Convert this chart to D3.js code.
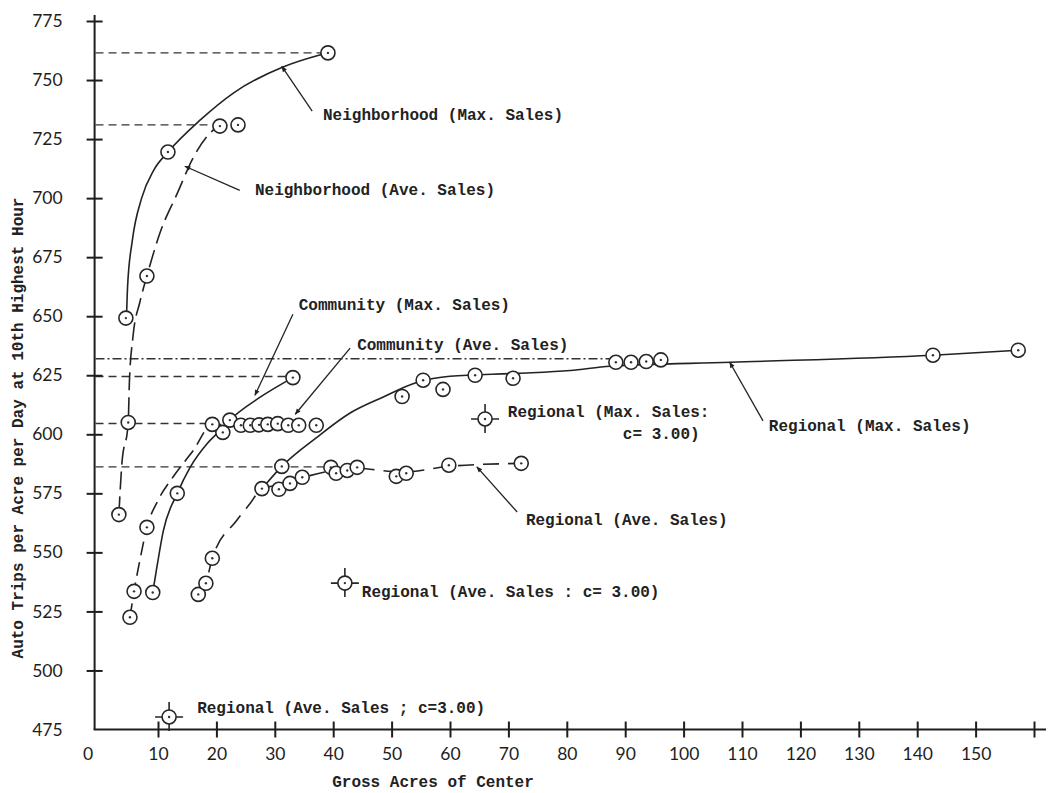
<!DOCTYPE html>
<html>

<head>
  <meta charset="utf-8" />
  <title>Auto trips per acre</title>
  <style>
    body {
      margin: 0;
      background: #fff;
    }

    .axis path,
    .axis line {
      fill: none;
      stroke: #1e1e1e;
      stroke-width: 2px;
    }

    .axis text {
      font-family: Lato, "DejaVu Sans", sans-serif;
      font-size: 17.5px;
      fill: #1e1e1e;
    }

    .note {
      font-family: "Liberation Mono", "DejaVu Sans Mono", monospace;
      font-weight: bold;
      font-size: 16px;
      fill: #222;
    }

    .curve {
      fill: none;
      stroke: #222;
      stroke-width: 1.6px;
    }

    .ref {
      fill: none;
      stroke: #333;
      stroke-width: 1.4px;
      stroke-dasharray: 8 5;
    }

    .dot {
      fill: #fff;
      stroke: #262626;
      stroke-width: 1.6px;
    }
  </style>
  <script src="https://cdnjs.cloudflare.com/ajax/libs/d3/7.8.5/d3.min.js"></script>
</head>

<body>
  <div id="chartArea"></div>
  <script>
    // tick values
    var xTicks = [0, 10, 20, 30, 40, 50, 60, 70, 80, 90, 100, 110, 120, 130, 140, 150, 160];
    var yTicks = [475, 500, 525, 550, 575, 600, 625, 650, 675, 700, 725, 750, 775];

    // observed points [acres, trips]
    var neighMaxPts = [[4.5, 649.2], [11.7, 719.5], [39.1, 761.5]];
    var neighAvePts = [[3.3, 566], [4.9, 605], [8.1, 667], [20.6, 730.5], [23.7, 731]];
    var commMaxPts = [[9.1, 533], [13.3, 575], [21.1, 600.8], [22.3, 606], [33.1, 624]];
    var commAvePts = [[5.2, 522.5], [5.9, 533.5], [8.1, 560.6], [19.3, 604.2], [24.2, 603.8], [25.8, 603.8],
      [27.3, 604], [28.8, 604.2], [30.5, 604.5], [32.3, 603.8], [34.1, 603.8], [37.1, 603.8]];
    var regAvePts = [[16.9, 532.2], [18.2, 536.9], [19.3, 547.5], [27.8, 577], [30.7, 576.7], [32.6, 579.2],
      [34.7, 581.8], [39.6, 586], [40.5, 583.5], [42.4, 584.7], [44.1, 586], [50.8, 582.2], [52.5, 583.5],
      [59.8, 586.9], [72.2, 587.7]];
    var regMaxPts = [[31.2, 586.4], [51.8, 616], [55.4, 622.9], [58.8, 619], [64.3, 625], [70.8, 623.7],
      [88.4, 630.5], [91, 630.5], [93.6, 630.8], [96.1, 631.5], [142.7, 633.5], [157.3, 635.6]];

    // special c = 3.00 points
    var cPts = [[66.0, 606.5], [42.0, 537.0], [11.9, 480.3]];

    // hand-fitted curves
    var neighMaxCurve = [[4.6, 649], [4.8, 663], [5.6, 682], [7.2, 700], [9.3, 712], [11.7, 719.5], [17.2, 733],
      [22.9, 744.5], [31.4, 755.5], [37.7, 760.6], [39.1, 761.5]];
    var neighAveCurve = [[3.3, 566], [3.8, 587], [4.9, 605], [5.1, 622], [5.7, 641], [6.9, 656], [8.1, 667],
      [10.3, 685], [13.3, 702], [16, 717], [18.9, 727.5], [20.6, 730.5], [23.7, 731]];
    var commMaxCurve = [[9.1, 533], [9.8, 543.6], [10.9, 559], [13.3, 575], [15.5, 586], [18.4, 596],
      [20.6, 601.5], [22.3, 606], [27.5, 615.7], [33.1, 624]];
    var commAveCurve = [[5.2, 522.5], [5.9, 533.5], [7, 548], [8.1, 560.6], [10, 572], [12.6, 582],
      [16, 593], [19.3, 604.2], [24.2, 604], [37.1, 603.8]];
    var regAveCurve = [[16.9, 532.2], [18.2, 537], [19.3, 547.5], [23.5, 563.6], [25.8, 570.8], [27.8, 577],
      [32, 579], [36, 582.5], [44, 585.5], [52, 584], [60, 586.5], [72.2, 587.7]];
    var regMaxCurve = [[28.3, 578.4], [31.2, 586.4], [37.2, 598.7], [42.9, 609], [48.5, 615.7], [54.4, 622],
      [60, 624.6], [71.5, 625.8], [80.6, 627], [87.4, 628.8], [108, 630.5], [142.7, 633.5], [157.3, 635.6]];

    // horizontal read-off lines [y, xEnd]
    var refLines = [[761.5, 38], [731, 19.5], [624.5, 32], [604.6, 18.5], [586.2, 44]];
    var refDashDot = [[632, 87.5]];

    // annotations: text, x, y (data units)
    var notes = [
      ['Neighborhood (Max. Sales)', 38.25, 733],
      ['Neighborhood (Ave. Sales)', 26.6, 701.3],
      ['Community (Max. Sales)', 34.1, 652.5],
      ['Community (Ave. Sales)', 44.1, 635.6],
      ['Regional (Max. Sales:', 69.9, 607.3],
      ['c= 3.00)', 89.6, 598],
      ['Regional (Max. Sales)', 114.6, 601.5],
      ['Regional (Ave. Sales)', 73, 561.6],
      ['Regional (Ave. Sales : c= 3.00)', 44.9, 531.1],
      ['Regional (Ave. Sales ; c=3.00)', 16.7, 482]
    ];
    // arrows: from [x,y] to [x,y]
    var arrows = [
      [[36.4, 736.8], [31.2, 755.8]],
      [[24.0, 703.3], [14.6, 713.5]],
      [[33.1, 650.8], [26.6, 616.5]],
      [[42.9, 636.5], [33.5, 608.5]],
      [[113.6, 605.7], [107.9, 630.5]],
      [[71.5, 567.1], [64.6, 586.2]]
    ];

    var W = 1052, H = 793;
    var svg = d3.select('#chartArea').append('svg')
      .attr('width', W)
      .attr('height', H);

    var defs = svg.append('defs');
    defs.append('marker')
      .attr('id', 'head')
      .attr('viewBox', '0 0 10 10')
      .attr('refX', 9).attr('refY', 5)
      .attr('markerWidth', 9).attr('markerHeight', 6)
      .attr('markerUnits', 'userSpaceOnUse')
      .attr('orient', 'auto')
      .append('path')
      .attr('d', 'M0,1 L10,5 L0,9 Z')
      .attr('fill', '#222');

    var xScale = d3.scaleLinear().domain([0, 160]).range([99.6, 1034]);
    var yScale = d3.scaleLinear().domain([475, 775]).range([729.5, 21]);

    // reference dashed lines
    svg.selectAll('.ref.plain')
      .data(refLines)
      .enter()
      .append('line')
      .attr('class', 'ref plain')
      .attr('x1', xScale(-0.7))
      .attr('x2', d => xScale(d[1]))
      .attr('y1', d => yScale(d[0]))
      .attr('y2', d => yScale(d[0]));

    svg.selectAll('.ref.dd')
      .data(refDashDot)
      .enter()
      .append('line')
      .attr('class', 'ref dd')
      .style('stroke-dasharray', '9 3 2 3')
      .attr('x1', xScale(-0.7))
      .attr('x2', d => xScale(d[1]))
      .attr('y1', d => yScale(d[0]))
      .attr('y2', d => yScale(d[0]));

    // axes
    var xAxis = d3.axisBottom(xScale)
      .tickValues(xTicks)
      .tickSize(0)
      .tickPadding(18)
      .tickFormat(d => d === 160 ? '' : d);
    var gx = svg.append('g')
      .attr('class', 'axis')
      .attr('transform', 'translate(0,' + yScale(475) + ')')
      .call(xAxis);
    gx.select('.domain').attr('d', 'M' + (xScale(0) - 6) + ',0H1046');
    gx.selectAll('.tick')
      .filter(d => d > 0)
      .append('line')
      .attr('y1', -8)
      .attr('y2', 8);
    gx.selectAll('.tick text')
      .filter(d => d === 0)
      .attr('dx', -12);

    var yAxis = d3.axisLeft(yScale)
      .tickValues(yTicks)
      .tickSize(0)
      .tickPadding(32);
    var gy = svg.append('g')
      .attr('class', 'axis')
      .attr('transform', 'translate(' + (xScale(0) - 5) + ',0)')
      .call(yAxis);
    gy.select('.domain').attr('d', 'M0,15V' + yScale(475));
    gy.selectAll('.tick')
      .filter(d => d > 475)
      .append('line')
      .attr('x1', -8)
      .attr('x2', 8);

    svg.append('text')
      .attr('class', 'note')
      .attr('text-anchor', 'middle')
      .attr('transform', 'translate(23,428) rotate(-90)')
      .text('Auto Trips per Acre per Day at 10th Highest Hour');

    svg.append('text')
      .attr('class', 'note')
      .attr('text-anchor', 'middle')
      .attr('x', 433)
      .attr('y', 787)
      .text('Gross Acres of Center');

    // curves
    var line = d3.line()
      .x(d => xScale(d[0]))
      .y(d => yScale(d[1]))
      .curve(d3.curveMonotoneX);

    var curves = [
      [neighMaxCurve, null],
      [neighAveCurve, '18 7'],
      [commMaxCurve, null],
      [commAveCurve, '14 7'],
      [regAveCurve, '16 9'],
      [regMaxCurve, null]
    ];
    svg.selectAll('.curve')
      .data(curves)
      .enter()
      .append('path')
      .attr('class', 'curve')
      .attr('d', d => line(d[0]))
      .style('stroke-dasharray', d => d[1]);

    // arrows
    svg.selectAll('.arrow')
      .data(arrows)
      .enter()
      .append('line')
      .attr('class', 'arrow')
      .attr('x1', d => xScale(d[0][0]))
      .attr('y1', d => yScale(d[0][1]))
      .attr('x2', d => xScale(d[1][0]))
      .attr('y2', d => yScale(d[1][1]))
      .attr('stroke', '#222')
      .attr('stroke-width', 1.3)
      .attr('marker-end', 'url(#head)');

    // points
    var allPts = [].concat(neighMaxPts, neighAvePts, commMaxPts, commAvePts, regAvePts, regMaxPts);
    var pts = svg.selectAll('.pt')
      .data(allPts)
      .enter()
      .append('g')
      .attr('class', 'pt')
      .attr('transform', d => 'translate(' + xScale(d[0]) + ',' + yScale(d[1]) + ')');
    pts.append('circle')
      .attr('class', 'dot')
      .attr('r', 7);
    pts.append('circle')
      .attr('r', 1.2)
      .attr('fill', '#333');

    // c = 3.00 points with cross ticks
    var cp = svg.selectAll('.cpt')
      .data(cPts)
      .enter()
      .append('g')
      .attr('class', 'cpt')
      .attr('transform', d => 'translate(' + xScale(d[0]) + ',' + yScale(d[1]) + ')');
    cp.append('circle')
      .attr('class', 'dot')
      .attr('r', 7);
    cp.append('circle')
      .attr('r', 1.2)
      .attr('fill', '#333');
    cp.append('path')
      .attr('d', 'M0,-7V-15M0,7V14M-7,0H-14M7,0H14')
      .attr('stroke', '#262626')
      .attr('stroke-width', 1.6);

    // labels
    svg.selectAll('.lbl')
      .data(notes)
      .enter()
      .append('text')
      .attr('class', 'note lbl')
      .attr('x', d => xScale(d[1]))
      .attr('y', d => yScale(d[2]))
      .text(d => d[0]);
  </script>
</body>

</html>
